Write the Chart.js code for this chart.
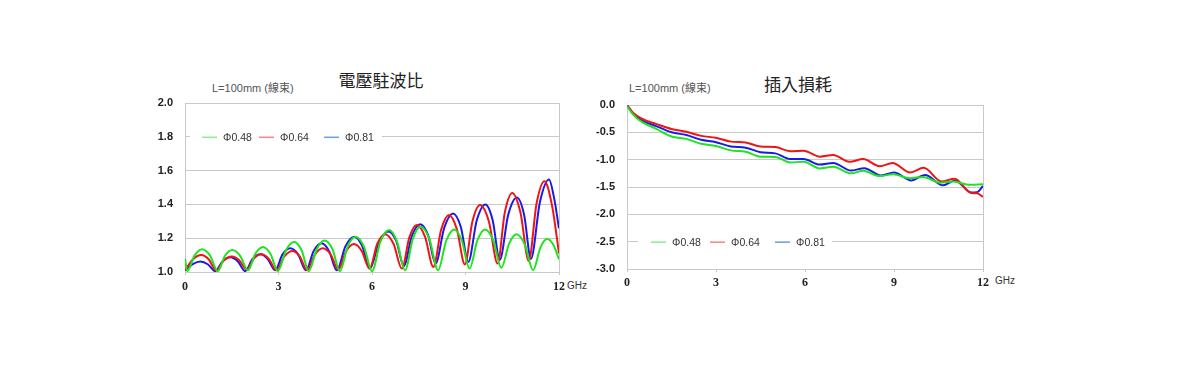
<!DOCTYPE html>
<html>
<head>
<meta charset="utf-8">
<script src="https://cdn.jsdelivr.net/npm/chart.js"></script>
<style>
  body { margin: 0; background: #fff; width: 1200px; height: 392px; position: relative; overflow: hidden; font-family: "Liberation Sans", Arial, sans-serif; }
  canvas { position: absolute; }
  .title { position: absolute; font-family: "Noto Sans CJK TC", sans-serif; font-size: 17px; line-height: 1; color: #222; transform: translate(-50%, -50%); white-space: nowrap; }
  .sub { position: absolute; font-family: "Liberation Sans", "Noto Sans CJK TC", sans-serif; font-size: 11px; line-height: 1; color: #555; transform: translateY(-50%); white-space: nowrap; }
  .unit { position: absolute; font-size: 10px; line-height: 1; color: #333; transform: translateY(-50%); }
</style>
</head>
<body>
<div class="title" style="left:381px; top:79px;">電壓駐波比</div>
<div class="sub" style="left:212px; top:88px;">L=100mm (線束)</div>
<div class="unit" style="left:567px; top:286px;">GHz</div>
<canvas id="vswrChart" width="470" height="240" style="left:130px; top:60px;"></canvas>

<div class="title" style="left:798px; top:83px;">插入損耗</div>
<div class="sub" style="left:629px; top:88px;">L=100mm (線束)</div>
<div class="unit" style="left:995px; top:281px;">GHz</div>
<canvas id="lossChart" width="460" height="240" style="left:570px; top:60px;"></canvas>

<script>
// 系列名
const seriesNames = ['Φ0.48', 'Φ0.64', 'Φ0.81'];
const xTicks = [0, 3, 6, 9, 12];

// 電壓駐波比 (VSWR) — 周波数 / 値
const vswrF048 = [0, 0.07, 0.31, 0.55, 0.80, 1.05, 1.28, 1.52, 1.77, 2.02, 2.26, 2.5, 2.74, 2.98, 3.24, 3.5, 3.74, 3.97, 4.23, 4.48, 4.73, 4.97, 5.22, 5.47, 5.74, 6.0, 6.27, 6.55, 6.8, 7.06, 7.31, 7.56, 7.84, 8.12, 8.38, 8.64, 8.88, 9.13, 9.38, 9.63, 9.89, 10.15, 10.4, 10.64, 10.9, 11.17, 11.4, 11.62, 11.82, 12];
const vswr048  = [1.08, 1.005, 1.098, 1.134, 1.098, 1.005, 1.095, 1.13, 1.096, 1.01, 1.109, 1.148, 1.108, 1.005, 1.129, 1.177, 1.129, 1.005, 1.136, 1.187, 1.136, 1.005, 1.151, 1.208, 1.151, 1.005, 1.18, 1.248, 1.181, 1.01, 1.196, 1.268, 1.196, 1.01, 1.184, 1.252, 1.187, 1.02, 1.187, 1.252, 1.188, 1.025, 1.168, 1.223, 1.163, 1.01, 1.143, 1.195, 1.16, 1.075];

const vswrF064 = [0, 0.26, 0.52, 0.76, 1.0, 1.25, 1.5, 1.74, 1.98, 2.21, 2.45, 2.69, 2.93, 3.19, 3.45, 3.68, 3.92, 4.17, 4.42, 4.67, 4.92, 5.17, 5.42, 5.67, 5.92, 6.17, 6.42, 6.69, 6.96, 7.2, 7.44, 7.7, 7.97, 8.22, 8.47, 8.72, 8.98, 9.22, 9.47, 9.75, 10.03, 10.26, 10.5, 10.76, 11.03, 11.28, 11.53, 11.78, 12];
const vswr064  = [1.01, 1.075, 1.10, 1.075, 1.01, 1.069, 1.092, 1.07, 1.015, 1.08, 1.105, 1.078, 1.01, 1.092, 1.124, 1.092, 1.01, 1.104, 1.14, 1.105, 1.015, 1.123, 1.165, 1.124, 1.02, 1.167, 1.224, 1.167, 1.02, 1.206, 1.278, 1.209, 1.03, 1.251, 1.337, 1.255, 1.045, 1.298, 1.396, 1.299, 1.05, 1.351, 1.468, 1.355, 1.065, 1.405, 1.537, 1.39, 1.11];

const vswrF081 = [0, 0.25, 0.5, 0.73, 0.97, 1.21, 1.45, 1.69, 1.93, 2.17, 2.42, 2.65, 2.89, 3.13, 3.38, 3.63, 3.88, 4.13, 4.38, 4.62, 4.87, 5.15, 5.43, 5.68, 5.93, 6.23, 6.53, 6.78, 7.02, 7.28, 7.55, 7.8, 8.04, 8.32, 8.6, 8.85, 9.09, 9.36, 9.64, 9.87, 10.1, 10.37, 10.65, 10.88, 11.1, 11.39, 11.68, 11.85, 12];
const vswr081  = [1.01, 1.047, 1.062, 1.046, 1.005, 1.064, 1.087, 1.064, 1.005, 1.077, 1.105, 1.078, 1.01, 1.104, 1.14, 1.104, 1.01, 1.125, 1.17, 1.125, 1.01, 1.153, 1.209, 1.156, 1.02, 1.178, 1.24, 1.183, 1.035, 1.214, 1.283, 1.218, 1.05, 1.263, 1.346, 1.266, 1.06, 1.305, 1.4, 1.308, 1.072, 1.338, 1.441, 1.339, 1.078, 1.416, 1.548, 1.43, 1.258];

// 插入損耗 (dB) — 周波数 / 値
const lossF048 = [0, 0.2, 0.5, 1.0, 1.5, 2.0, 2.5, 3.0, 3.5, 4.0, 4.5, 5.0, 5.5, 5.95, 6.5, 6.95, 7.55, 7.96, 8.52, 8.97, 9.53, 9.98, 10.55, 11.0, 11.55, 12];
const loss048  = [-0.02, -0.17, -0.31, -0.44, -0.575, -0.62, -0.71, -0.75, -0.83, -0.855, -0.945, -0.95, -1.05, -1.04, -1.16, -1.13, -1.25, -1.205, -1.3, -1.265, -1.34, -1.315, -1.42, -1.40, -1.46, -1.45];

const lossF064 = [0, 0.2, 0.5, 1.0, 1.5, 2.0, 2.5, 3.0, 3.5, 4.0, 4.5, 5.0, 5.5, 5.95, 6.5, 6.95, 7.5, 7.96, 8.52, 8.95, 9.55, 10.0, 10.6, 11.04, 11.6, 11.8, 12];
const loss064  = [0, -0.14, -0.25, -0.35, -0.44, -0.49, -0.565, -0.6, -0.67, -0.685, -0.76, -0.77, -0.845, -0.835, -0.945, -0.915, -1.04, -0.99, -1.12, -1.06, -1.235, -1.15, -1.4, -1.35, -1.61, -1.615, -1.68];

const lossF081 = [0, 0.2, 0.5, 1.0, 1.5, 2.0, 2.5, 3.0, 3.5, 4.0, 4.5, 5.0, 5.5, 5.95, 6.5, 6.95, 7.55, 8.0, 8.57, 9.0, 9.58, 10.05, 10.65, 11.06, 11.6, 11.8, 12];
const loss081  = [0, -0.16, -0.28, -0.39, -0.5, -0.55, -0.635, -0.68, -0.76, -0.78, -0.865, -0.885, -0.99, -0.99, -1.09, -1.06, -1.2, -1.155, -1.29, -1.235, -1.38, -1.28, -1.47, -1.38, -1.6, -1.595, -1.48];

const lineColors = ['#1ee41e', '#f01414', '#1a1ae8'];   // 線の色
const swatchColors = ['#8ff08f', '#f58a8a', '#6ea6dc']; // 凡例の色
const gridColor = '#c8c8c8';

function pts(xs, ys) {
  return xs.map((x, i) => ({ x: x, y: ys[i] }));
}

// プロット内の凡例 (白背景で罫線を隠す)
const inlineLegend = {
  id: 'inlineLegend',
  beforeDatasetsDraw(chart, args, o) {
    const ctx = chart.ctx, a = chart.chartArea;
    const y = chart.scales.y.getPixelForValue(o.at);
    ctx.save();
    ctx.fillStyle = '#fff';
    ctx.fillRect(a.left + o.boxFrom, y - 7, o.boxTo - o.boxFrom, 14);
    ctx.font = '10.5px "Liberation Sans", Arial, sans-serif';
    ctx.textBaseline = 'middle';
    ctx.lineWidth = 1.6;
    seriesNames.forEach((name, i) => {
      const sx = a.left + o.swatch[i];
      ctx.strokeStyle = swatchColors[i];
      ctx.beginPath();
      ctx.moveTo(sx, y + 0.5);
      ctx.lineTo(sx + 15, y + 0.5);
      ctx.stroke();
      ctx.fillStyle = '#333';
      ctx.fillText(name, sx + 21, y + 1);
    });
    ctx.restore();
  }
};

function makeChart(id, series, yMin, yMax, yStep, pad, yWidth, xHeight, xPad, legendOpts) {
  const ctx = document.getElementById(id).getContext('2d');
  return new Chart(ctx, {
    type: 'line',
    data: {
      datasets: series.map((s, i) => ({
        label: seriesNames[i],
        data: pts(s[0], s[1]),
        borderColor: lineColors[i],
        borderWidth: 2,
        pointRadius: 0,
        fill: false,
        cubicInterpolationMode: 'monotone'
      }))
    },
    options: {
      responsive: false,
      devicePixelRatio: 1,
      animation: false,
      layout: { padding: pad },
      plugins: {
        legend: { display: false },
        tooltip: { enabled: false },
        inlineLegend: legendOpts
      },
      scales: {
        x: {
          type: 'linear',
          min: 0,
          max: 12,
          afterBuildTicks: s => { s.ticks = xTicks.map(v => ({ value: v })); },
          afterFit: s => { s.height = xHeight; },
          grid: {
            color: c => (c.tick && c.tick.value === 12 ? gridColor : 'rgba(0,0,0,0)'),
            tickColor: gridColor,
            tickLength: 3
          },
          border: { color: gridColor },
          ticks: {
            padding: xPad,
            maxRotation: 0,
            color: '#222',
            font: { family: '"Liberation Serif", "Times New Roman", serif', size: 12, weight: 'bold' }
          }
        },
        y: {
          min: yMin,
          max: yMax,
          afterFit: s => { s.width = yWidth; },
          grid: { color: gridColor, drawTicks: false },
          border: { color: gridColor },
          ticks: {
            stepSize: yStep,
            padding: 12,
            color: '#222',
            font: { family: '"Liberation Sans", Arial, sans-serif', size: 11, weight: 'bold' },
            callback: v => v.toFixed(1)
          }
        }
      }
    },
    plugins: [inlineLegend]
  });
}

makeChart('vswrChart',
  [[vswrF048, vswr048], [vswrF064, vswr064], [vswrF081, vswr081]],
  1.0, 2.0, 0.2,
  { left: 0, right: 41, top: 43, bottom: 0 }, 55, 28, 5,
  { at: 1.8, boxFrom: 5, boxTo: 197, swatch: [17, 74, 139] });

makeChart('lossChart',
  [[lossF048, loss048], [lossF064, loss064], [lossF081, loss081]],
  -3.0, 0.0, 0.5,
  { left: 0, right: 47, top: 45, bottom: 0 }, 57, 31, 4,
  { at: -2.5, boxFrom: 11, boxTo: 205, swatch: [24, 83, 148] });
</script>
</body>
</html>
